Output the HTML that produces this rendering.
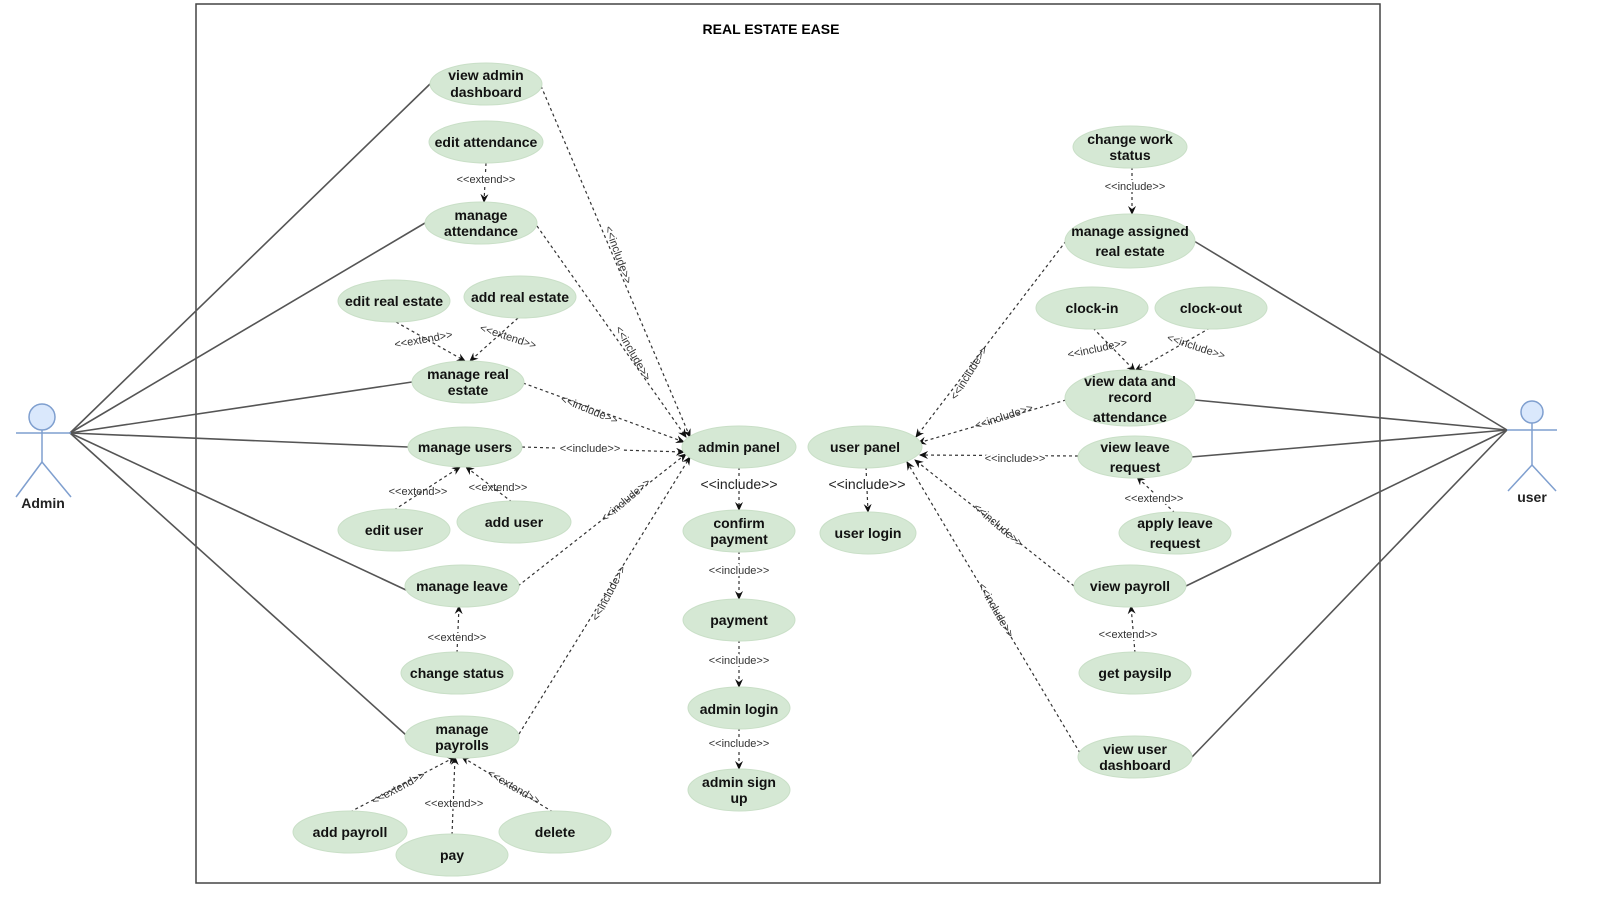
<!DOCTYPE html>
<html><head><meta charset="utf-8"><style>
html,body{margin:0;padding:0;background:#fff;}
svg{display:block;}
.u ellipse{fill:#d5e8d4;stroke:#c9dfc7;stroke-width:1;}
.u text{font-family:"Liberation Sans",Arial,sans-serif;font-weight:bold;font-size:14px;fill:#111;text-anchor:middle;}
.s{stroke:#555;stroke-width:1.6;fill:none;}
.d{stroke:#333;stroke-width:1.2;fill:none;stroke-dasharray:3 3;marker-end:url(#a);}
.l{font-family:"Liberation Sans",Arial,sans-serif;font-size:11px;fill:#333;text-anchor:middle;}
.lb{font-family:"Liberation Sans",Arial,sans-serif;font-size:14px;fill:#222;text-anchor:middle;}
</style></head><body>
<svg width="1600" height="908" viewBox="0 0 1600 908" xmlns="http://www.w3.org/2000/svg">
<defs><marker id="a" markerWidth="10" markerHeight="10" refX="8" refY="4" orient="auto" markerUnits="userSpaceOnUse"><path d="M0,0 L9,4 L0,8 L3,4 z" fill="#111"/></marker></defs>
<rect x="196" y="4" width="1184" height="879" fill="none" stroke="#444" stroke-width="1.5"/>
<text x="771" y="34" font-family="Liberation Sans,Arial,sans-serif" font-weight="bold" font-size="14" text-anchor="middle">REAL ESTATE EASE</text>

<!-- actor lines admin -->
<g class="s">
<line x1="70" y1="433" x2="430" y2="84"/>
<line x1="70" y1="433" x2="425" y2="223"/>
<line x1="70" y1="433" x2="412" y2="382"/>
<line x1="70" y1="433" x2="408" y2="447"/>
<line x1="70" y1="433" x2="406" y2="590"/>
<line x1="70" y1="433" x2="406" y2="735"/>
<line x1="1507" y1="430" x2="1194" y2="241"/>
<line x1="1507" y1="430" x2="1195" y2="400"/>
<line x1="1507" y1="430" x2="1191" y2="457"/>
<line x1="1507" y1="430" x2="1186" y2="586"/>
<line x1="1507" y1="430" x2="1192" y2="757"/>
</g>
<!-- actors -->
<g stroke="#7f9fcf" stroke-width="1.5" fill="none">
<circle cx="42" cy="417" r="13" fill="#dae8fc"/>
<line x1="42" y1="430" x2="42" y2="462"/><line x1="16" y1="433" x2="71" y2="433"/>
<line x1="42" y1="462" x2="16" y2="497"/><line x1="42" y1="462" x2="71" y2="497"/>
<circle cx="1532" cy="412" r="11" fill="#dae8fc"/>
<line x1="1532" y1="423" x2="1532" y2="465"/><line x1="1507" y1="430" x2="1557" y2="430"/>
<line x1="1532" y1="465" x2="1508" y2="491"/><line x1="1532" y1="465" x2="1556" y2="491"/>
</g>
<text x="43" y="508" class="lb" font-weight="bold">Admin</text>
<text x="1532" y="502" class="lb" font-weight="bold">user</text>

<!-- dashed connectors -->
<g>
<line class="d" x1="541" y1="86" x2="690" y2="437"/>
<line class="d" x1="537" y1="226" x2="686" y2="437"/>
<line class="d" x1="523" y1="383" x2="684" y2="442"/>
<line class="d" x1="522" y1="447" x2="684" y2="452"/>
<line class="d" x1="518" y1="586" x2="686" y2="454"/>
<line class="d" x1="519" y1="734" x2="690" y2="457"/>
<line class="d" x1="486" y1="163" x2="484" y2="202"/>
<line class="d" x1="396" y1="322" x2="465" y2="361"/>
<line class="d" x1="518" y1="318" x2="470" y2="361"/>
<line class="d" x1="394" y1="510" x2="460" y2="467"/>
<line class="d" x1="512" y1="502" x2="466" y2="467"/>
<line class="d" x1="457" y1="653" x2="459" y2="606"/>
<line class="d" x1="350" y1="812" x2="455" y2="757"/>
<line class="d" x1="452" y1="835" x2="455" y2="757"/>
<line class="d" x1="553" y1="812" x2="462" y2="757"/>
<line class="d" x1="739" y1="467" x2="739" y2="510"/>
<line class="d" x1="739" y1="551" x2="739" y2="599"/>
<line class="d" x1="739" y1="640" x2="739" y2="687"/>
<line class="d" x1="739" y1="728" x2="739" y2="769"/>
<line class="d" x1="866" y1="467" x2="868" y2="512"/>
<line class="d" x1="1132" y1="167" x2="1132" y2="214"/>
<line class="d" x1="1093" y1="328" x2="1135" y2="371"/>
<line class="d" x1="1210" y1="328" x2="1135" y2="371"/>
<line class="d" x1="1066" y1="241" x2="916" y2="437"/>
<line class="d" x1="1066" y1="400" x2="918" y2="443"/>
<line class="d" x1="1078" y1="456" x2="920" y2="455"/>
<line class="d" x1="1074" y1="586" x2="915" y2="460"/>
<line class="d" x1="1080" y1="753" x2="907" y2="462"/>
<line class="d" x1="1175" y1="513" x2="1137" y2="477"/>
<line class="d" x1="1135" y1="653" x2="1131" y2="606"/>
</g>

<!-- labels -->
<g class="l">
<text x="615" y="256" transform="rotate(70 615 256)">&lt;&lt;include&gt;&gt;</text>
<text x="630" y="355" transform="rotate(60 630 355)">&lt;&lt;include&gt;&gt;</text>
<text x="588" y="413" transform="rotate(22 588 413)">&lt;&lt;include&gt;&gt;</text>
<text x="590" y="452" fill="#333" style="paint-order:stroke" stroke="#fff" stroke-width="4">&lt;&lt;include&gt;&gt;</text>
<text x="628" y="503" transform="rotate(-40 628 503)">&lt;&lt;include&gt;&gt;</text>
<text x="612" y="595" transform="rotate(-62 612 595)">&lt;&lt;include&gt;&gt;</text>
<text x="486" y="183" stroke="#fff" stroke-width="4" style="paint-order:stroke">&lt;&lt;extend&gt;&gt;</text>
<text x="424" y="343" transform="rotate(-10 424 343)">&lt;&lt;extend&gt;&gt;</text>
<text x="507" y="340" transform="rotate(18 507 340)">&lt;&lt;extend&gt;&gt;</text>
<text x="418" y="495">&lt;&lt;extend&gt;&gt;</text>
<text x="498" y="491">&lt;&lt;extend&gt;&gt;</text>
<text x="457" y="641" stroke="#fff" stroke-width="4" style="paint-order:stroke">&lt;&lt;extend&gt;&gt;</text>
<text x="400" y="791" transform="rotate(-28 400 791)">&lt;&lt;extend&gt;&gt;</text>
<text x="454" y="807" stroke="#fff" stroke-width="4" style="paint-order:stroke">&lt;&lt;extend&gt;&gt;</text>
<text x="512" y="790" transform="rotate(30 512 790)">&lt;&lt;extend&gt;&gt;</text>
<text x="739" y="574" stroke="#fff" stroke-width="4" style="paint-order:stroke">&lt;&lt;include&gt;&gt;</text>
<text x="739" y="664" stroke="#fff" stroke-width="4" style="paint-order:stroke">&lt;&lt;include&gt;&gt;</text>
<text x="739" y="747" stroke="#fff" stroke-width="4" style="paint-order:stroke">&lt;&lt;include&gt;&gt;</text>
<text x="1135" y="190" stroke="#fff" stroke-width="4" style="paint-order:stroke">&lt;&lt;include&gt;&gt;</text>
<text x="1098" y="352" transform="rotate(-12 1098 352)">&lt;&lt;include&gt;&gt;</text>
<text x="1195" y="350" transform="rotate(18 1195 350)">&lt;&lt;include&gt;&gt;</text>
<text x="972" y="375" transform="rotate(-58 972 375)">&lt;&lt;include&gt;&gt;</text>
<text x="1005" y="420" transform="rotate(-18 1005 420)">&lt;&lt;include&gt;&gt;</text>
<text x="1015" y="462" stroke="#fff" stroke-width="4" style="paint-order:stroke">&lt;&lt;include&gt;&gt;</text>
<text x="996" y="528" transform="rotate(40 996 528)">&lt;&lt;include&gt;&gt;</text>
<text x="993" y="612" transform="rotate(60 993 612)">&lt;&lt;include&gt;&gt;</text>
<text x="1154" y="502" stroke="#fff" stroke-width="4" style="paint-order:stroke">&lt;&lt;extend&gt;&gt;</text>
<text x="1128" y="638" stroke="#fff" stroke-width="4" style="paint-order:stroke">&lt;&lt;extend&gt;&gt;</text>
</g>
<text x="739" y="489" class="lb" stroke="#fff" stroke-width="4" style="paint-order:stroke">&lt;&lt;include&gt;&gt;</text>
<text x="867" y="489" class="lb" stroke="#fff" stroke-width="4" style="paint-order:stroke">&lt;&lt;include&gt;&gt;</text>

<!-- use cases -->
<g class="u">
<ellipse cx="486" cy="84" rx="56" ry="21"/><text x="486" y="80">view admin</text><text x="486" y="97">dashboard</text>
<ellipse cx="486" cy="142" rx="57" ry="21"/><text x="486" y="147">edit attendance</text>
<ellipse cx="481" cy="223" rx="56" ry="21"/><text x="481" y="220">manage</text><text x="481" y="236">attendance</text>
<ellipse cx="394" cy="301" rx="56" ry="21"/><text x="394" y="306">edit real estate</text>
<ellipse cx="520" cy="297" rx="56" ry="21"/><text x="520" y="302">add real estate</text>
<ellipse cx="468" cy="382" rx="56" ry="21"/><text x="468" y="379">manage real</text><text x="468" y="395">estate</text>
<ellipse cx="465" cy="447" rx="57" ry="20"/><text x="465" y="452">manage users</text>
<ellipse cx="394" cy="530" rx="56" ry="21"/><text x="394" y="535">edit user</text>
<ellipse cx="514" cy="522" rx="57" ry="21"/><text x="514" y="527">add user</text>
<ellipse cx="462" cy="586" rx="57" ry="21"/><text x="462" y="591">manage leave</text>
<ellipse cx="457" cy="673" rx="56" ry="21"/><text x="457" y="678">change status</text>
<ellipse cx="462" cy="737" rx="57" ry="21"/><text x="462" y="734">manage</text><text x="462" y="750">payrolls</text>
<ellipse cx="350" cy="832" rx="57" ry="21"/><text x="350" y="837">add payroll</text>
<ellipse cx="452" cy="855" rx="56" ry="21"/><text x="452" y="860">pay</text>
<ellipse cx="555" cy="832" rx="56" ry="21"/><text x="555" y="837">delete</text>
<ellipse cx="739" cy="447" rx="57" ry="21"/><text x="739" y="452">admin panel</text>
<ellipse cx="739" cy="531" rx="56" ry="21"/><text x="739" y="528">confirm</text><text x="739" y="544">payment</text>
<ellipse cx="739" cy="620" rx="56" ry="21"/><text x="739" y="625">payment</text>
<ellipse cx="739" cy="708" rx="51" ry="21"/><text x="739" y="714">admin login</text>
<ellipse cx="739" cy="790" rx="51" ry="21"/><text x="739" y="787">admin sign</text><text x="739" y="803">up</text>
<ellipse cx="865" cy="447" rx="57" ry="21"/><text x="865" y="452">user panel</text>
<ellipse cx="868" cy="533" rx="48" ry="21"/><text x="868" y="538">user login</text>
<ellipse cx="1130" cy="147" rx="57" ry="21"/><text x="1130" y="144">change work</text><text x="1130" y="160">status</text>
<ellipse cx="1130" cy="241" rx="65" ry="27"/><text x="1130" y="236">manage assigned</text><text x="1130" y="256">real estate</text>
<ellipse cx="1092" cy="308" rx="56" ry="21"/><text x="1092" y="313">clock-in</text>
<ellipse cx="1211" cy="308" rx="56" ry="21"/><text x="1211" y="313">clock-out</text>
<ellipse cx="1130" cy="398" rx="65" ry="28"/><text x="1130" y="386">view data and</text><text x="1130" y="402">record</text><text x="1130" y="422">attendance</text>
<ellipse cx="1135" cy="457" rx="57" ry="21"/><text x="1135" y="452">view leave</text><text x="1135" y="472">request</text>
<ellipse cx="1175" cy="533" rx="56" ry="21"/><text x="1175" y="528">apply leave</text><text x="1175" y="548">request</text>
<ellipse cx="1130" cy="586" rx="56" ry="21"/><text x="1130" y="591">view payroll</text>
<ellipse cx="1135" cy="673" rx="56" ry="21"/><text x="1135" y="678">get paysilp</text>
<ellipse cx="1135" cy="757" rx="57" ry="21"/><text x="1135" y="754">view user</text><text x="1135" y="770">dashboard</text>
</g>
</svg>
</body></html>
